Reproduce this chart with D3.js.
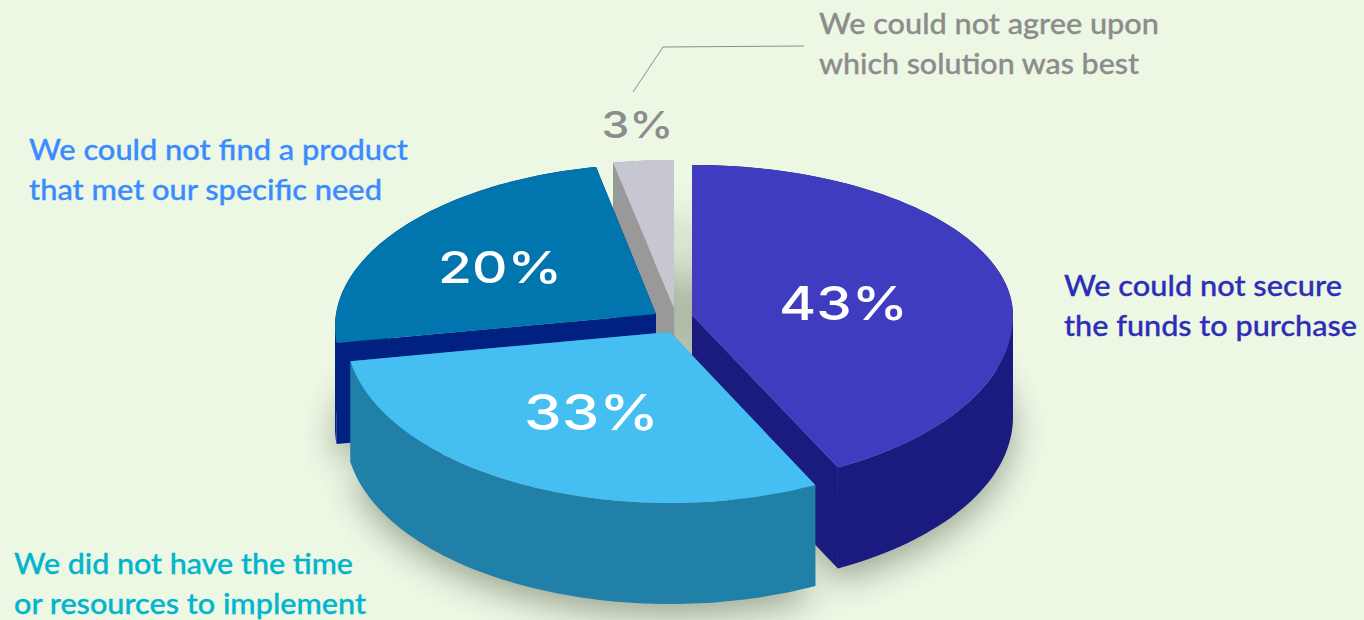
<!DOCTYPE html>
<html>
<head>
<meta charset="utf-8">
<style>
  html, body { margin: 0; padding: 0; background: #ecf7e4; }
  svg { display: block; }
  text { font-family: Lato, "Noto Sans", sans-serif; }
</style>
<script src="https://cdn.jsdelivr.net/npm/d3@7/dist/d3.min.js"></script>
</head>
<body>
<svg id="chart" width="1364" height="620"></svg>
<script>
// Survey shares, clockwise from twelve o'clock
const reasons = [
  ["We could not secure", "the funds to purchase"],
  ["We did not have the time", "or resources to implement"],
  ["We could not find a product", "that met our specific need"],
  ["We could not agree upon", "which solution was best"]
];
const shares = [43, 33, 20, 3];

const topColors = ["#403cc0", "#45bff2", "#0075ae", "#c6c7d1"];
const wallColors = ["#1a1a7f", "#2080a7", "#002082", "#999999"];
const captionColors = ["#2d2db8", "#00b5cc", "#3b8bff", "#8c8c8c"];
const shareColors = ["#ffffff", "#ffffff", "#ffffff", "#8c8c8c"];

// Exploded-wedge geometry: each wedge has its own rim ellipse and tip
const wedgeFrames = [
  { cx: 692, cy: 316, rx: 321, ry: 151, ryNear: 170, tipX: 692, tipY: 315, warp: [0, -3.4] },
  { cx: 670, cy: 333, rx: 324, ry: 170, ryNear: 170, tipX: 670, tipY: 332, warp: [-3, -15.9] },
  { cx: 657, cy: 327, rx: 322, ry: 163, ryNear: 163, tipX: 656, tipY: 314, warp: [-12, 0] },
  { cx: 674, cy: 312, rx: 322, ry: 152, ryNear: 152, tipX: 674, tipY: 308, warp: [0, 0] }
];
const wallDepth = 101;

// Where captions and share figures sit
const captionFrames = [
  { x: 1064, y: [296, 336], w: [278, 293] },
  { x: 14, y: [574, 614], w: [339, 352] },
  { x: 29, y: [160, 200], w: [379, 353] },
  { x: 819, y: [34, 74], w: [340, 320] }
];
const shareFrames = [
  { x: 843.5, y: 320, size: 47, w: 129 },
  { x: 591.5, y: 430, size: 50, w: 135 },
  { x: 500, y: 283, size: 44, w: 124 },
  { x: 637.5, y: 138, size: 37, w: 72 }
];
const leaderPoints = [[804, 46], [663, 47], [633, 92]];

const svg = d3.select("#chart");
const defs = svg.append("defs");
defs.append("filter")
  .attr("id", "softShadow")
  .attr("x", "-20%").attr("y", "-20%").attr("width", "140%").attr("height", "140%")
  .append("feGaussianBlur").attr("stdDeviation", 16);
defs.append("filter")
  .attr("id", "gapShade")
  .attr("x", "-10%").attr("y", "-40%").attr("width", "120%").attr("height", "180%")
  .append("feGaussianBlur").attr("stdDeviation", "0 16");

const pie = d3.pie().sort(null).value(d => d);
const arcs = pie(shares);

const line = d3.line();

// Rim points of a wedge, projected from its pie angles on to its ellipse
function rimPoints(arc, frame, drop = 0) {
  const steps = d3.range(0, 1.0001, 1 / 80);
  const angle = d3.scaleLinear().domain([0, 1]).range([arc.startAngle, arc.endAngle]);
  const warp = d3.scaleLinear().domain([0, 1]).range(frame.warp);
  return steps.map(s => {
    const a = angle(s) + warp(s) * Math.PI / 180;
    const c = Math.cos(a);
    return [frame.cx + frame.rx * Math.sin(a), frame.cy - (c > 0 ? frame.ry : frame.ryNear) * c + drop];
  });
}

const tip = (frame, drop = 0) => [frame.tipX, frame.tipY + drop];

// Ground shadow from the wedge footprints
const shadowLayer = svg.append("g")
  .attr("filter", "url(#softShadow)")
  .attr("opacity", 0.44);
arcs.forEach((arc, i) => {
  const frame = wedgeFrames[i];
  shadowLayer.append("path")
    .attr("d", line([tip(frame, wallDepth), ...rimPoints(arc, frame, wallDepth + 13)]) + "Z")
    .attr("fill", "#3f4a38");
});

// Shade falling in the slot between the smallest and the largest wedge
svg.append("rect")
  .attr("x", wedgeFrames[3].tipX - 2)
  .attr("width", wedgeFrames[0].tipX - wedgeFrames[3].tipX + 4)
  .attr("y", 215)
  .attr("height", 140)
  .attr("fill", "#3f4a38")
  .attr("opacity", 0.11)
  .attr("filter", "url(#gapShade)");

// Back-to-front painting order
const paintOrder = [3, 2, 0, 1];
const wedges = svg.append("g").selectAll("g")
  .data(paintOrder)
  .join("g");

wedges.each(function (i) {
  const g = d3.select(this);
  const frame = wedgeFrames[i];
  const rim = rimPoints(arcs[i], frame);
  const rimLow = rimPoints(arcs[i], frame, wallDepth);
  // Outer wall, split where the rim turns so the silhouette stays vertical there
  const turn = d3.greatestIndex(rim, p => Math.abs(p[0] - frame.cx));
  [[0, turn + 1], [turn, rim.length]].forEach(([from, to]) => {
    if (to - from < 2) return;
    g.append("path")
      .attr("d", line([...rim.slice(from, to), ...rimLow.slice(from, to).reverse()]) + "Z")
      .attr("fill", wallColors[i]);
  });
  // Both cut faces
  [0, rim.length - 1].forEach(k => {
    g.append("path")
      .attr("d", line([tip(frame), rim[k], rimLow[k], tip(frame, wallDepth)]) + "Z")
      .attr("fill", wallColors[i]);
  });
  // Top face
  g.append("path")
    .attr("d", line([tip(frame), ...rim]) + "Z")
    .attr("fill", topColors[i]);
});

// Captions
reasons.forEach((lines, i) => {
  const frame = captionFrames[i];
  lines.forEach((txt, k) => {
    svg.append("text")
      .attr("x", frame.x)
      .attr("y", frame.y[k])
      .attr("font-size", 29)
      .attr("font-weight", 500)
      .attr("fill", captionColors[i])
      .attr("stroke", captionColors[i])
      .attr("stroke-width", 0.3)
      .attr("textLength", frame.w[k])
      .attr("lengthAdjust", "spacingAndGlyphs")
      .text(txt);
  });
});

// Share figures
shares.forEach((v, i) => {
  const frame = shareFrames[i];
  svg.append("text")
    .attr("x", frame.x - frame.w / 2)
    .attr("y", frame.y)
    .attr("font-size", frame.size)
    .attr("font-weight", 500)
    .attr("fill", shareColors[i])
    .attr("textLength", frame.w)
    .attr("lengthAdjust", "spacingAndGlyphs")
    .style("font-family", "Inter, sans-serif")
    .text(`${v}%`);
});

// Leader from the smallest share to its caption
svg.append("path")
  .attr("d", line(leaderPoints))
  .attr("fill", "none")
  .attr("stroke", "#8c8c8c")
  .attr("stroke-width", 1);
</script>
</body>
</html>
